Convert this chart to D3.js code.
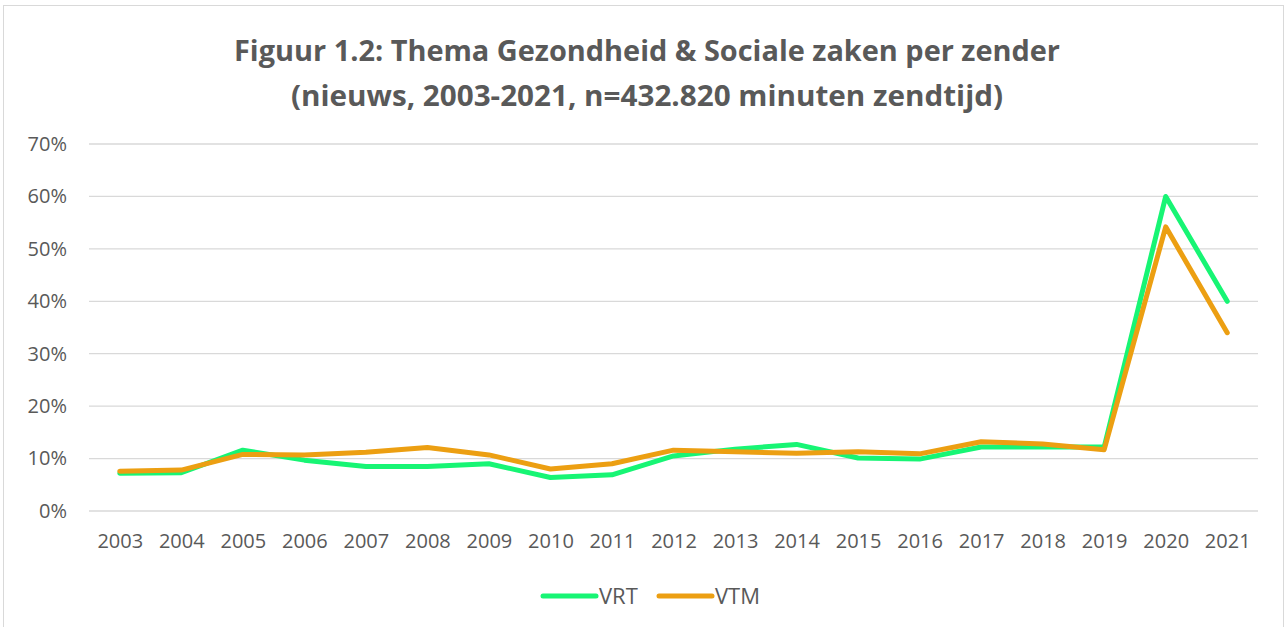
<!DOCTYPE html>
<html>
<head>
<meta charset="utf-8">
<script src="https://cdn.jsdelivr.net/npm/d3@7"></script>
<style>
  body { margin: 0; background: #fff; }
  text { font-family: "Open Sans", "Noto Sans", sans-serif; }
</style>
</head>
<body>
<div id="grafiek"></div>
<script>
// Gegevens
const jaren = ["2003","2004","2005","2006","2007","2008","2009","2010","2011","2012","2013","2014","2015","2016","2017","2018","2019","2020","2021"];
const vrt = [7.2, 7.3, 11.6, 9.7, 8.5, 8.5, 9.0, 6.4, 6.9, 10.5, 11.8, 12.7, 10.1, 9.9, 12.2, 12.2, 12.2, 60.0, 40.0];
const vtm = [7.6, 7.8, 10.8, 10.7, 11.2, 12.1, 10.7, 8.0, 9.0, 11.6, 11.3, 11.0, 11.3, 10.9, 13.2, 12.8, 11.7, 54.2, 34.0];
const yTicks = [0, 10, 20, 30, 40, 50, 60, 70];
const reeksen = [
  { naam: "VRT", waarden: vrt, kleur: "#17F574" },
  { naam: "VTM", waarden: vtm, kleur: "#EC9F12" }
];

const breedte = 1287, hoogte = 627;
const marge = { top: 144, right: 29, bottom: 116, left: 89 };
const w = breedte - marge.left - marge.right;
const h = hoogte - marge.top - marge.bottom;

const svg = d3.select("#grafiek").append("svg")
  .attr("width", breedte)
  .attr("height", hoogte);

// kader rond de grafiek
svg.append("rect")
  .attr("x", 3.5).attr("y", 5.5)
  .attr("width", 1280).attr("height", 640)
  .attr("fill", "none")
  .attr("stroke", "#d9d9d9");

// titel
const titel = svg.append("text")
  .attr("text-anchor", "middle")
  .attr("font-weight", "bold")
  .attr("font-size", "28px")
  .attr("fill", "#595959");
titel.append("tspan").attr("x", 647).attr("y", 61)
  .attr("textLength", 826).attr("lengthAdjust", "spacingAndGlyphs")
  .text("Figuur 1.2: Thema Gezondheid & Sociale zaken per zender");
titel.append("tspan").attr("x", 647).attr("y", 106)
  .attr("textLength", 712).attr("lengthAdjust", "spacingAndGlyphs")
  .text("(nieuws, 2003-2021, n=432.820 minuten zendtijd)");

const g = svg.append("g")
  .attr("transform", `translate(${marge.left},${marge.top})`);

const x = d3.scalePoint()
  .domain(jaren)
  .range([0, w])
  .padding(0.5);

const y = d3.scaleLinear()
  .domain([0, 70])
  .range([h, 0]);

// rasterlijnen
g.selectAll(".raster")
  .data(yTicks)
  .enter()
  .append("line")
  .attr("x1", 0).attr("x2", w)
  .attr("y1", d => y(d)).attr("y2", d => y(d))
  .attr("stroke", "#d9d9d9")
  .attr("stroke-width", 1.3);

// y-as
const yAs = g.append("g")
  .call(d3.axisLeft(y).tickValues(yTicks).tickFormat(d => d + "%").tickSize(0).tickPadding(22));
yAs.select(".domain").remove();
yAs.selectAll("text")
  .attr("font-size", "20px")
  .attr("fill", "#595959")
  .style("font-family", "\"Open Sans\", sans-serif");

// x-as
const xAs = g.append("g")
  .attr("transform", `translate(0,${h})`)
  .call(d3.axisBottom(x).tickSize(0).tickPadding(23));
xAs.select(".domain").remove();
xAs.selectAll("text")
  .attr("font-size", "20px")
  .attr("fill", "#595959")
  .style("font-family", "\"Open Sans\", sans-serif");

// lijnen
const lijn = d3.line()
  .x((d, i) => x(jaren[i]))
  .y(d => y(d));

g.selectAll(".lijn")
  .data(reeksen)
  .enter()
  .append("path")
  .attr("d", d => lijn(d.waarden))
  .attr("fill", "none")
  .attr("stroke", d => d.kleur)
  .attr("stroke-width", 5)
  .attr("stroke-linejoin", "round")
  .attr("stroke-linecap", "round");

// legenda
const legenda = svg.append("g").attr("transform", "translate(543,596)");
const item = legenda.selectAll("g")
  .data(reeksen)
  .enter()
  .append("g")
  .attr("transform", (d, i) => `translate(${i * 116},0)`);
item.append("line")
  .attr("x1", 0).attr("x2", 53)
  .attr("stroke", d => d.kleur)
  .attr("stroke-width", 5)
  .attr("stroke-linecap", "round");
item.append("text")
  .attr("x", 56).attr("y", 8)
  .attr("font-size", "22px")
  .attr("fill", "#595959")
  .text(d => d.naam);
</script>
</body>
</html>
